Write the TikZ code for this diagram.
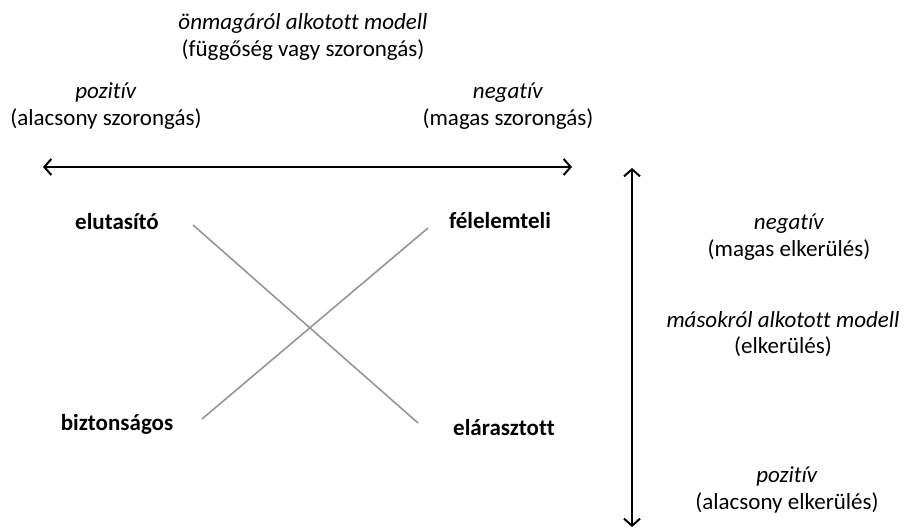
\documentclass[tikz,border=0pt]{standalone}
\usepackage{fontspec}
\setmainfont{Carlito}[Ligatures = NoCommon]
\usetikzlibrary{arrows.meta}

\definecolor{crossgray}{RGB}{150,150,150}

\begin{document}
\begin{tikzpicture}[x = 1pt, y = -1pt,
    every node/.style = {font = \fontsize{23}{26.5}\selectfont, inner sep = 0pt, align = center},
    style label/.style = {font = \fontsize{23}{26.5}\selectfont\bfseries},
    axis/.style = {line width = 2pt, {Straight Barb[length = 7pt, width = 16pt, line width = 2pt]}-{Straight Barb[length = 7pt, width = 16pt, line width = 2pt]}},
    cross/.style = {line width = 1.6pt, crossgray}]

        % Frame of the picture.
        \useasboundingbox (0,0) rectangle (913,529);

        % Axis labels for the self model.
        \node (self) at (303,37) {\textit{önmagáról alkotott modell}\\(függőség vagy szorongás)};
        \node (selfpos) at (106,106) {\textit{pozitív}\\(alacsony szorongás)};
        \node (selfneg) at (508,106) {\textit{negatív}\\(magas szorongás)};

        % Axis labels for the model of others.
        \node (othneg) at (789,237) {\textit{negatív}\\(magas elkerülés)};
        \node (oth) at (783,334) {\textit{másokról alkotott modell}\\(elkerülés)};
        \node (othpos) at (787,490) {\textit{pozitív}\\(alacsony elkerülés)};

        % Ends of the two axes.
        \coordinate (hl) at (43,167);
        \coordinate (hr) at (572,167);
        \coordinate (vt) at (632,168);
        \coordinate (vb) at (632,527);
        \draw[axis] (hl) -- (hr);
        \draw[axis] (vt) -- (vb);

        % The four attachment styles.
        \node[style label] (dismiss) at (117,222) {elutasító};
        \node[style label] (fearful) at (500,221) {félelemteli};
        \node[style label] (secure) at (117,424) {biztonságos};
        \node[style label] (preocc) at (504,428) {elárasztott};

        % Ends of the crossing lines.
        \coordinate (c1) at (193,225);
        \coordinate (c2) at (418,423);
        \coordinate (c3) at (428,228);
        \coordinate (c4) at (202,419);
        \draw[cross] (c1) -- (c2);
        \draw[cross] (c3) -- (c4);
    \end{tikzpicture}
\end{document}
